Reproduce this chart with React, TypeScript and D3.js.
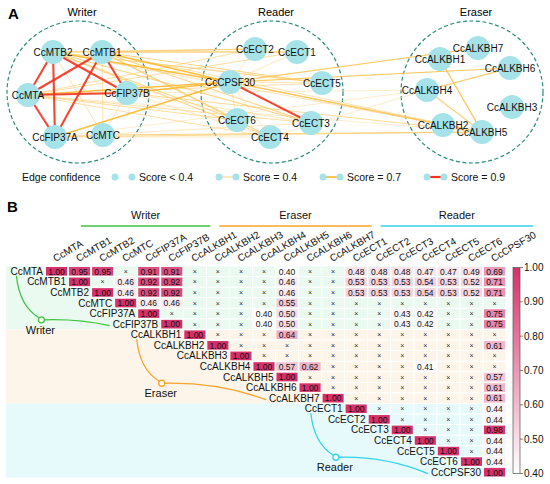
import React from "react";
import * as d3 from "d3";

const FONT = "'Liberation Sans', Arial, Helvetica, sans-serif";

// gene groups (heatmap order: Writer, Eraser, Reader)
const writerGenes = ["CcMTA", "CcMTB1", "CcMTB2", "CcMTC", "CcFIP37A", "CcFIP37B"];
const eraserGenes = ["CcALKBH1", "CcALKBH2", "CcALKBH3", "CcALKBH4", "CcALKBH5", "CcALKBH6", "CcALKBH7"];
const readerGenes = ["CcECT1", "CcECT2", "CcECT3", "CcECT4", "CcECT5", "CcECT6", "CcCPSF30"];
const genes = [...writerGenes, ...eraserGenes, ...readerGenes];

// upper triangle, each row starts at its diagonal cell; null = "×"
const X = null;
const rowMTA = [1.0, 0.95, 0.95, X, 0.91, 0.91, X, X, X, X, 0.4, X, X, 0.48, 0.48, 0.48, 0.47, 0.47, 0.49, 0.69];
const rowMTB1 = [1.0, X, 0.46, 0.92, 0.92, X, X, X, X, 0.46, X, X, 0.53, 0.53, 0.53, 0.54, 0.53, 0.52, 0.71];
const rowMTB2 = [1.0, 0.46, 0.92, 0.92, X, X, X, X, 0.46, X, X, 0.53, 0.53, 0.53, 0.54, 0.53, 0.52, 0.71];
const rowMTC = [1.0, 0.46, 0.46, X, X, X, X, 0.55, X, X, X, X, X, X, X, X, X];
const rowFIP37A = [1.0, X, X, X, X, 0.4, 0.5, X, X, X, X, 0.43, 0.42, X, X, 0.75];
const rowFIP37B = [1.0, X, X, X, 0.4, 0.5, X, X, X, X, 0.43, 0.42, X, X, 0.75];
const rowALKBH1 = [1.0, X, X, X, 0.64, X, X, X, X, X, X, X, X, X];
const rowALKBH2 = [1.0, X, X, X, X, X, X, X, X, X, X, X, 0.61];
const rowALKBH3 = [1.0, X, X, X, X, X, X, X, X, X, X, X];
const rowALKBH4 = [1.0, 0.57, 0.62, X, X, X, X, 0.41, X, X, X];
const rowALKBH5 = [1.0, X, X, X, X, X, X, X, X, 0.57];
const rowALKBH6 = [1.0, X, X, X, X, X, X, X, 0.61];
const rowALKBH7 = [1.0, X, X, X, X, X, X, 0.61];
const rowECT1 = [1.0, X, X, X, X, X, 0.44];
const rowECT2 = [1.0, X, X, X, X, 0.44];
const rowECT3 = [1.0, X, X, X, 0.98];
const rowECT4 = [1.0, X, X, 0.44];
const rowECT5 = [1.0, X, 0.44];
const rowECT6 = [1.0, 0.44];
const rowCPSF30 = [1.0];
const corrRows: (number | null)[][] = [
  rowMTA, rowMTB1, rowMTB2, rowMTC, rowFIP37A, rowFIP37B,
  rowALKBH1, rowALKBH2, rowALKBH3, rowALKBH4, rowALKBH5, rowALKBH6, rowALKBH7,
  rowECT1, rowECT2, rowECT3, rowECT4, rowECT5, rowECT6, rowCPSF30,
];

const colorbarTicks = [1.0, 0.9, 0.8, 0.7, 0.6, 0.5, 0.4];
const legendItems = [
  { label: "Score < 0.4", score: null },
  { label: "Score = 0.4", score: 0.4 },
  { label: "Score = 0.7", score: 0.7 },
  { label: "Score = 0.9", score: 0.9 },
];

// network layout: cluster centres and node offsets inside each cluster
const clusterCenters: Record<string, [number, number]> = {
  Writer: [78, 92],
  Reader: [272, 92],
  Eraser: [472, 92],
};
const nodeOffsets: Record<string, [number, number]> = {
  CcMTB2: [-25, -40], CcMTB1: [24, -40], CcMTA: [-50, 3], CcFIP37B: [49, 1], CcFIP37A: [-23, 45], CcMTC: [25, 43],
  CcECT2: [-17, -43], CcECT1: [25, -40], CcCPSF30: [-42, -10], CcECT5: [50, -9], CcECT6: [-35, 28], CcECT3: [39, 31], CcECT4: [-2, 45],
  CcALKBH1: [-32, -33], CcALKBH7: [6, -44], CcALKBH6: [38, -24], CcALKBH4: [-45, -2], CcALKBH3: [40, 15], CcALKBH2: [-29, 33], CcALKBH5: [10, 40],
};

const groups = [
  { name: "Writer", genes: writerGenes, band: "#eafaf0", line: "#3ec43e" },
  { name: "Eraser", genes: eraserGenes, band: "#fdf5ea", line: "#f6a42c" },
  { name: "Reader", genes: readerGenes, band: "#e6fafc", line: "#33d3ea" },
];

function groupOf(g: string) {
  return groups.find((gr) => gr.genes.includes(g))!.name;
}

let measureCtx: CanvasRenderingContext2D | null = null;
function textW(s: string, size = 10) {
  if (!measureCtx) measureCtx = document.createElement("canvas").getContext("2d");
  if (!measureCtx) return s.length * size * 0.6;
  measureCtx.font = `${size}px ${FONT}`;
  return measureCtx.measureText(s).width;
}

const edgeScale = d3.scaleLinear<string>().domain([0.4, 0.7]).range(["#fde1b3", "#fbb82c"]).clamp(true);
const edgeColor = (v: number) => (v >= 0.9 ? "#f2331f" : edgeScale(v));
const edgeWidth = (v: number) => (v >= 0.9 ? 2.1 : d3.scaleLinear().domain([0.4, 0.75]).range([0.7, 1.6]).clamp(true)(v));

export default function App() {
  const width = 550;
  const height = 484;

  // ---------- panel A ----------
  const pos = (g: string): [number, number] => {
    const c = clusterCenters[groupOf(g)];
    const o = nodeOffsets[g];
    return [c[0] + o[0], c[1] + o[1]];
  };
  const edges: { a: string; b: string; v: number }[] = [];
  corrRows.forEach((row, i) =>
    row.forEach((v, k) => {
      if (k > 0 && v !== null) edges.push({ a: genes[i], b: genes[i + k], v });
    })
  );
  edges.sort((p, q) => p.v - q.v);

  const legendX = d3.scalePoint<number>().domain([0, 1, 2, 3]).range([115, 427]);

  // ---------- panel B ----------
  const x = d3.scaleBand<string>().domain(genes).range([45, 506]);
  const y = d3.scaleBand<string>().domain(genes).range([266, 477.5]);
  const bw = x.bandwidth();
  const bh = y.bandwidth();
  const color = d3.scaleLinear<string>().domain([0.4, 1]).range(["#ffffff", "#d6306a"]).clamp(true);
  const cbY = d3.scaleLinear().domain([0.4, 1]).range([473.5, 267.5]);

  return (
    <svg width={width} height={height} style={{ position: "absolute", left: 0, top: 0, background: "#fff" }} fontFamily={FONT}>
      <defs>
        <linearGradient id="cb" x1="0" y1="1" x2="0" y2="0">
          <stop offset="0%" stopColor={color(0.4)} />
          <stop offset="50%" stopColor={color(0.7)} />
          <stop offset="100%" stopColor={color(1)} />
        </linearGradient>
      </defs>

      {/* panel A */}
      <text x={8} y={19} fontSize={15} fontWeight="bold">A</text>
      {Object.entries(clusterCenters).map(([name, c]) => (
        <g key={name}>
          <circle cx={c[0]} cy={c[1]} r={71} fill="none" stroke="#2a8c7c" strokeWidth={1.2} strokeDasharray="4 2.5" />
          <text x={c[0] + 4} y={16} fontSize={11} textAnchor="middle">{name}</text>
        </g>
      ))}
      {edges.map((e, i) => {
        const [x1, y1] = pos(e.a);
        const [x2, y2] = pos(e.b);
        return (
          <line key={i} x1={x1} y1={y1} x2={x2} y2={y2} stroke={edgeColor(e.v)} strokeWidth={edgeWidth(e.v)} strokeOpacity={0.9} />
        );
      })}
      {genes.map((g) => {
        const [cx, cy] = pos(g);
        return (
          <g key={g}>
            <circle cx={cx} cy={cy} r={12} fill="#a5e3e9" />
            <text x={cx} y={cy} fontSize={10} textAnchor="middle" dominantBaseline="central" fill="#111">{g}</text>
          </g>
        );
      })}
      {/* legend */}
      <text x={22} y={181} fontSize={10.5} fill="#111">Edge confidence</text>
      {legendItems.map((it, i) => {
        const lx = legendX(i)!;
        return (
          <g key={it.label}>
            {it.score !== null && (
              <line x1={lx} y1={177} x2={lx + 17} y2={177} stroke={edgeColor(it.score)} strokeWidth={it.score >= 0.9 ? 2.2 : 1.6} />
            )}
            <circle cx={lx} cy={177} r={3.5} fill="#a5e3e9" />
            <circle cx={lx + 17} cy={177} r={3.5} fill="#a5e3e9" />
            <text x={lx + 24} y={181} fontSize={10.5} fill="#111">{it.label}</text>
          </g>
        );
      })}

      {/* panel B */}
      <text x={7} y={212} fontSize={15} fontWeight="bold">B</text>
      {groups.map((gr) => {
        const first = gr.genes[0];
        const last = gr.genes[gr.genes.length - 1];
        const x0 = x(first)! + 36;
        const x1 = x(last)! + bw + 27;
        return (
          <g key={gr.name}>
            <rect x={6} y={y(first)!} width={506 - 6} height={y(last)! + bh - y(first)!} fill={gr.band} />
            <text x={(x0 + x1) / 2} y={219} fontSize={11} textAnchor="middle" fill="#111">{gr.name}</text>
            <line x1={x0} x2={x1} y1={226} y2={226} stroke={gr.line} strokeWidth={1.3} />
          </g>
        );
      })}
      {/* cells */}
      {corrRows.map((row, i) =>
        row.map((v, k) => {
          const gx = genes[i + k];
          const gy = genes[i];
          const cx = x(gx)!;
          const cy = y(gy)!;
          return (
            <g key={`${i}-${k}`}>
              <rect x={cx} y={cy} width={bw} height={bh} fill="none" stroke="#ffffff" strokeWidth={0.8} />
              {v !== null ? (
                <>
                  <rect x={cx + 1} y={cy + 1} width={bw - 2} height={bh - 2} fill={color(v)} />
                  <text x={cx + bw / 2} y={cy + bh / 2 + 0.3} fontSize={8.5} fontWeight={500} textAnchor="middle" dominantBaseline="central" fill="#111">
                    {v.toFixed(2)}
                  </text>
                </>
              ) : (
                <text x={cx + bw / 2} y={cy + bh / 2} fontSize={7} textAnchor="middle" dominantBaseline="central" fill="#333">
                  ×
                </text>
              )}
            </g>
          );
        })
      )}
      {/* row labels */}
      {genes.map((g) => (
        <text key={g} x={x(g)! - 2} y={y(g)! + bh / 2} fontSize={10} textAnchor="end" dominantBaseline="central" fill="#111">
          {g}
        </text>
      ))}
      {/* column labels */}
      {genes.map((g) => (
        <text key={g} transform={`translate(${x(g)! + bw / 2 - 1},262) rotate(-30)`} fontSize={10} fill="#111">
          {g}
        </text>
      ))}
      {/* group brackets */}
      {groups.map((gr) => {
        const first = gr.genes[0];
        const last = gr.genes[gr.genes.length - 1];
        const sx = x(first)! - 2 - textW(first) + 6;
        const sy = y(first)! + bh / 2 + 4.5;
        const cx = sx + 25;
        const cy = sy + 44;
        const ex = x(last)! - 2 - textW(last) - 3;
        const ey = y(last)! + bh / 2 + 1.5;
        const p1 = d3.path();
        p1.moveTo(sx, sy);
        p1.quadraticCurveTo(sx + 3, cy - 14, cx - 2.5, cy - 2);
        const p2 = d3.path();
        p2.moveTo(cx + 3, cy);
        p2.quadraticCurveTo(cx + 0.55 * (ex - cx), cy - 1, ex, ey);
        return (
          <g key={gr.name}>
            <path d={p1.toString()} fill="none" stroke={gr.line} strokeWidth={1.3} />
            <path d={p2.toString()} fill="none" stroke={gr.line} strokeWidth={1.3} />
            <circle cx={cx} cy={cy} r={3} fill="#fff" stroke={gr.line} strokeWidth={1.3} />
            <text x={cx - 1} y={cy + 14} fontSize={11} textAnchor="middle" fill="#111">{gr.name}</text>
          </g>
        );
      })}
      {/* colour bar */}
      <rect x={513} y={cbY(1)} width={7} height={cbY(0.4) - cbY(1)} fill="url(#cb)" stroke="#555" strokeWidth={0.7} />
      {colorbarTicks.map((t) => (
        <g key={t}>
          <line x1={520} x2={523} y1={cbY(t)} y2={cbY(t)} stroke="#555" strokeWidth={0.7} />
          <text x={524} y={cbY(t)} fontSize={10} dominantBaseline="central" fill="#111">{t.toFixed(2)}</text>
        </g>
      ))}
    </svg>
  );
}
